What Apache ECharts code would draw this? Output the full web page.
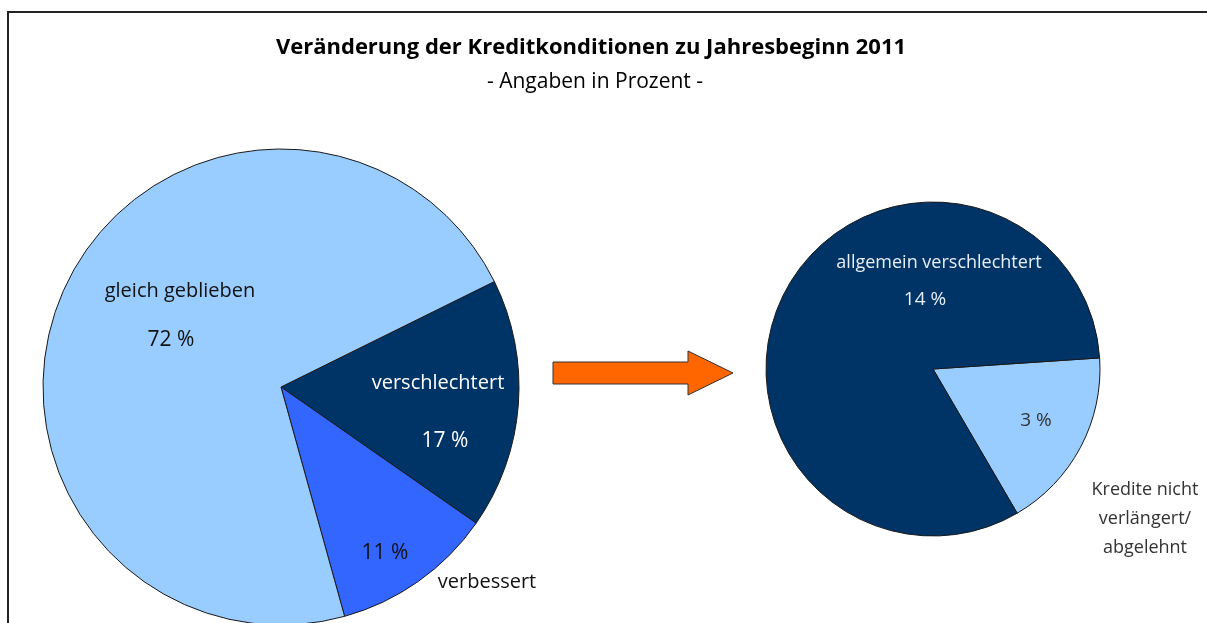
<!DOCTYPE html>
<html>
<head>
<meta charset="utf-8">
<script src="https://cdn.jsdelivr.net/npm/echarts@6/dist/echarts.min.js"></script>
<style>
  html, body { margin: 0; padding: 0; background: #fff; }
  #chart { width: 1207px; height: 623px; }
</style>
</head>
<body>
<div id="chart"></div>
<script>
// Werte
const leftNames = ['verschlechtert', 'verbessert', 'gleich geblieben'];
const leftValues = [17, 11, 72];
const rightNames = ['Kredite nicht\nverlängert/\nabgelehnt', 'allgemein verschlechtert'];
const rightValues = [3, 14];

const titleText = 'Veränderung der Kreditkonditionen zu Jahresbeginn 2011';
const subText = '- Angaben in Prozent -';

const lightBlue = '#99CCFF';
const navy = '#003366';
const blue = '#3366FF';

// Beschriftungs-Positionen (Name / Prozent), Farbe
const leftLabelPos = [
  { name: [438, 383], val: [445, 441], color: '#ffffff' },
  { name: [487, 582], val: [385, 553], color: '#111111' },
  { name: [180, 291], val: [171, 340], color: '#111111' }
];
const rightLabelPos = [
  { name: [1145, 519], val: [1036, 421], color: '#333333' },
  { name: [939, 263], val: [925, 300], color: '#e8eef6' }
];

const font = '"Open Sans", "DejaVu Sans", sans-serif';

function labelGraphics(names, values, pos, size) {
  const out = [];
  names.forEach((n, i) => {
    const p = pos[i];
    out.push({
      type: 'text', x: p.name[0], y: p.name[1], silent: true, z: 100,
      style: { text: n, fill: p.color, font: size + 'px ' + font, textAlign: 'center', textVerticalAlign: 'middle', lineHeight: 29 }
    });
    out.push({
      type: 'text', x: p.val[0], y: p.val[1], silent: true, z: 100,
      style: { text: values[i] + ' %', fill: p.color, font: (size + 1) + 'px ' + font, textAlign: 'center', textVerticalAlign: 'middle' }
    });
  });
  return out;
}

const chart = echarts.init(document.getElementById('chart'));

const pieBase = {
  type: 'pie',
  clockwise: true,
  silent: true,
  label: { show: false },
  labelLine: { show: false },
  emphasis: { disabled: true },
  itemStyle: { borderColor: '#1a1a1a', borderWidth: 1 }
};

chart.setOption({
  animation: false,
  backgroundColor: '#ffffff',
  series: [
    Object.assign({}, pieBase, {
      center: [281, 387],
      radius: 238,
      startAngle: 26.3,
      data: leftNames.map((n, i) => ({ name: n, value: leftValues[i] })),
      color: [navy, blue, lightBlue]
    }),
    Object.assign({}, pieBase, {
      center: [933, 369],
      radius: 167,
      startAngle: 3.8,
      data: rightNames.map((n, i) => ({ name: n, value: rightValues[i] })),
      color: [lightBlue, navy]
    })
  ],
  graphic: [
    // Rahmen
    { type: 'rect', silent: true, shape: { x: 8, y: 12, width: 1400, height: 800 },
      style: { fill: 'none', stroke: '#222', lineWidth: 2 } },
    { type: 'text', x: 591, y: 48, silent: true, z: 100,
      style: { text: titleText, font: 'bold 22px ' + font, fill: '#000', textAlign: 'center', textVerticalAlign: 'middle' } },
    { type: 'text', x: 595, y: 82, silent: true, z: 100,
      style: { text: subText, font: '21px ' + font, fill: '#000', textAlign: 'center', textVerticalAlign: 'middle' } },
    // Pfeil
    { type: 'polygon', silent: true, z: 100,
      shape: { points: [[553, 362], [688, 362], [688, 351], [733, 373], [688, 395], [688, 384], [553, 384]] },
      style: { fill: '#FF6600', stroke: '#333', lineWidth: 1 } }
  ].concat(labelGraphics(leftNames, leftValues, leftLabelPos, 20))
   .concat(labelGraphics(rightNames, rightValues, rightLabelPos, 18))
});
</script>
</body>
</html>
